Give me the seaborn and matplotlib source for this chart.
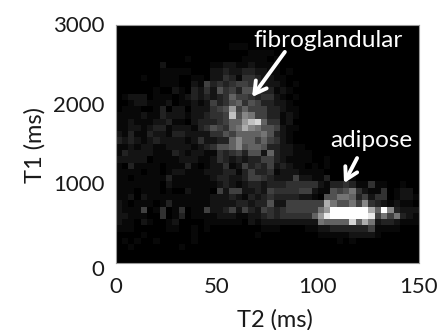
import numpy as np
import matplotlib
matplotlib.use("Agg")
import matplotlib.pyplot as plt
from matplotlib.colors import PowerNorm
from matplotlib.transforms import ScaledTranslation
import seaborn as sns

x_ticks = [0, 50, 100, 150]
y_ticks = [0, 1000, 2000, 3000]
n_cols = 48
hist_rows = [
    "",
    "",
    "",
    "000000 000000 000000 111000",
    "000000 000000 000000 000111 101000",
    "000000 000001 000000 001111 010000",
    "000000 020000 000112 211211 110000",
    "000000 011111 000223 223322 110100",
    "000010 011100 110224 314432 211000",
    "000000 011100 215343 455432 221010",
    "000000 100210 324264 536653 312100",
    "012220 111012 323234 755434 421010",
    "001221 112011 212534 674653 322100",
    "011100 130220 222456 a57555 332110",
    "111121 132221 223445 c69855 331210",
    "112111 223110 233345 77acd7 441200",
    "112212 331222 134654 78b986 652110",
    "213113 221332 222446 577778 632100",
    "323212 322221 242233 797757 542100",
    "112122 112222 123466 796776 332211",
    "132222 111321 221143 453662 732211 100000",
    "222220 111122 211243 232335 532111 100100",
    "103111 101113 101224 125343 523211 010100",
    "111101 101221 112223 313533 412221 111000",
    "110111 113111 111233 223554 322252 211300 110000",
    "111111 102111 111123 212332 333444 442133 431141 100100",
    "111011 101002 111052 552232 544445 521165 684211 401220",
    "112021 111111 111222 321323 433332 210668 873524 401221",
    "210111 013111 111222 233233 622555 555b86 685943 212110",
    "211150 140140 115223 525325 434555 558aff ffffb7 f93222",
    "221110 040130 111122 211223 434444 47aeff ffffe5 858321",
    "211021 001200 001111 110212 222222 228777 7d7b82 332111",
    "111000 001100 101000 000001 110000 112233 333351 111000",
    "000010 000000 100000 000010 000000 001111 122221 000000",
    "010100 100000 100000 000000 000000 000001 010000",
    "001000 000010",
    "",
    "",
]

counts = np.array([[int(ch, 16) for ch in r.replace(" ", "").ljust(n_cols, "0")]
                   for r in hist_rows])
n_rows = counts.shape[0]

sns.set_theme(style="white")
plt.rcParams["font.family"] = ["Lato", "DejaVu Sans"]

fig = plt.figure(figsize=(4.41, 3.30), dpi=100)
ax = fig.add_axes([115.5 / 441, (330 - 263) / 330, 303.5 / 441, 238.5 / 330])
sns.heatmap(counts, ax=ax, cmap="gray", norm=PowerNorm(1.25, vmin=0, vmax=15),
            cbar=False, square=False)

text_color = "#1a1a1a"
ax.set_xticks([v / 150 * n_cols for v in x_ticks])
ax.set_xticklabels(x_ticks, rotation=0, fontsize=16, color=text_color)
ax.set_yticks([(1 - v / 3000) * n_rows for v in y_ticks])
ax.set_yticklabels(y_ticks, rotation=0, fontsize=16, color=text_color)
ax.tick_params(length=0)
ax.tick_params(axis="x", pad=10)
ax.tick_params(axis="y", pad=8)
for lab, v in zip(ax.get_yticklabels(), y_ticks):
    drop = 6.5 if v == 0 else 1.5
    lab.set_transform(lab.get_transform() + ScaledTranslation(0, -drop / 100, fig.dpi_scale_trans))
ax.set_xlabel("T2 (ms)", fontsize=17, color=text_color, labelpad=9, x=0.526)
ax.set_ylabel("T1 (ms)", fontsize=17, color=text_color, labelpad=5, y=0.495)
for s in ax.spines.values():
    s.set_visible(True)
    s.set_color("#999999")
    s.set_linewidth(0.8)

ax.text(0.70, 0.935, "fibroglandular", transform=ax.transAxes, color="white",
        fontsize=17.6, ha="center", va="center")
ax.text(0.842, 0.515, "adipose", transform=ax.transAxes, color="white",
        fontsize=17.5, ha="center", va="center")
arrow = dict(arrowstyle="->,head_width=0.4,head_length=0.7", color="white", lw=2.8,
             shrinkA=0, shrinkB=0)
ax.annotate("", xy=(0.45, 0.696), xytext=(0.558, 0.885), xycoords="axes fraction",
            textcoords="axes fraction", arrowprops=arrow)
ax.annotate("", xy=(0.753, 0.335), xytext=(0.796, 0.44), xycoords="axes fraction",
            textcoords="axes fraction", arrowprops=arrow)

fig.savefig("out.png", dpi=100)
